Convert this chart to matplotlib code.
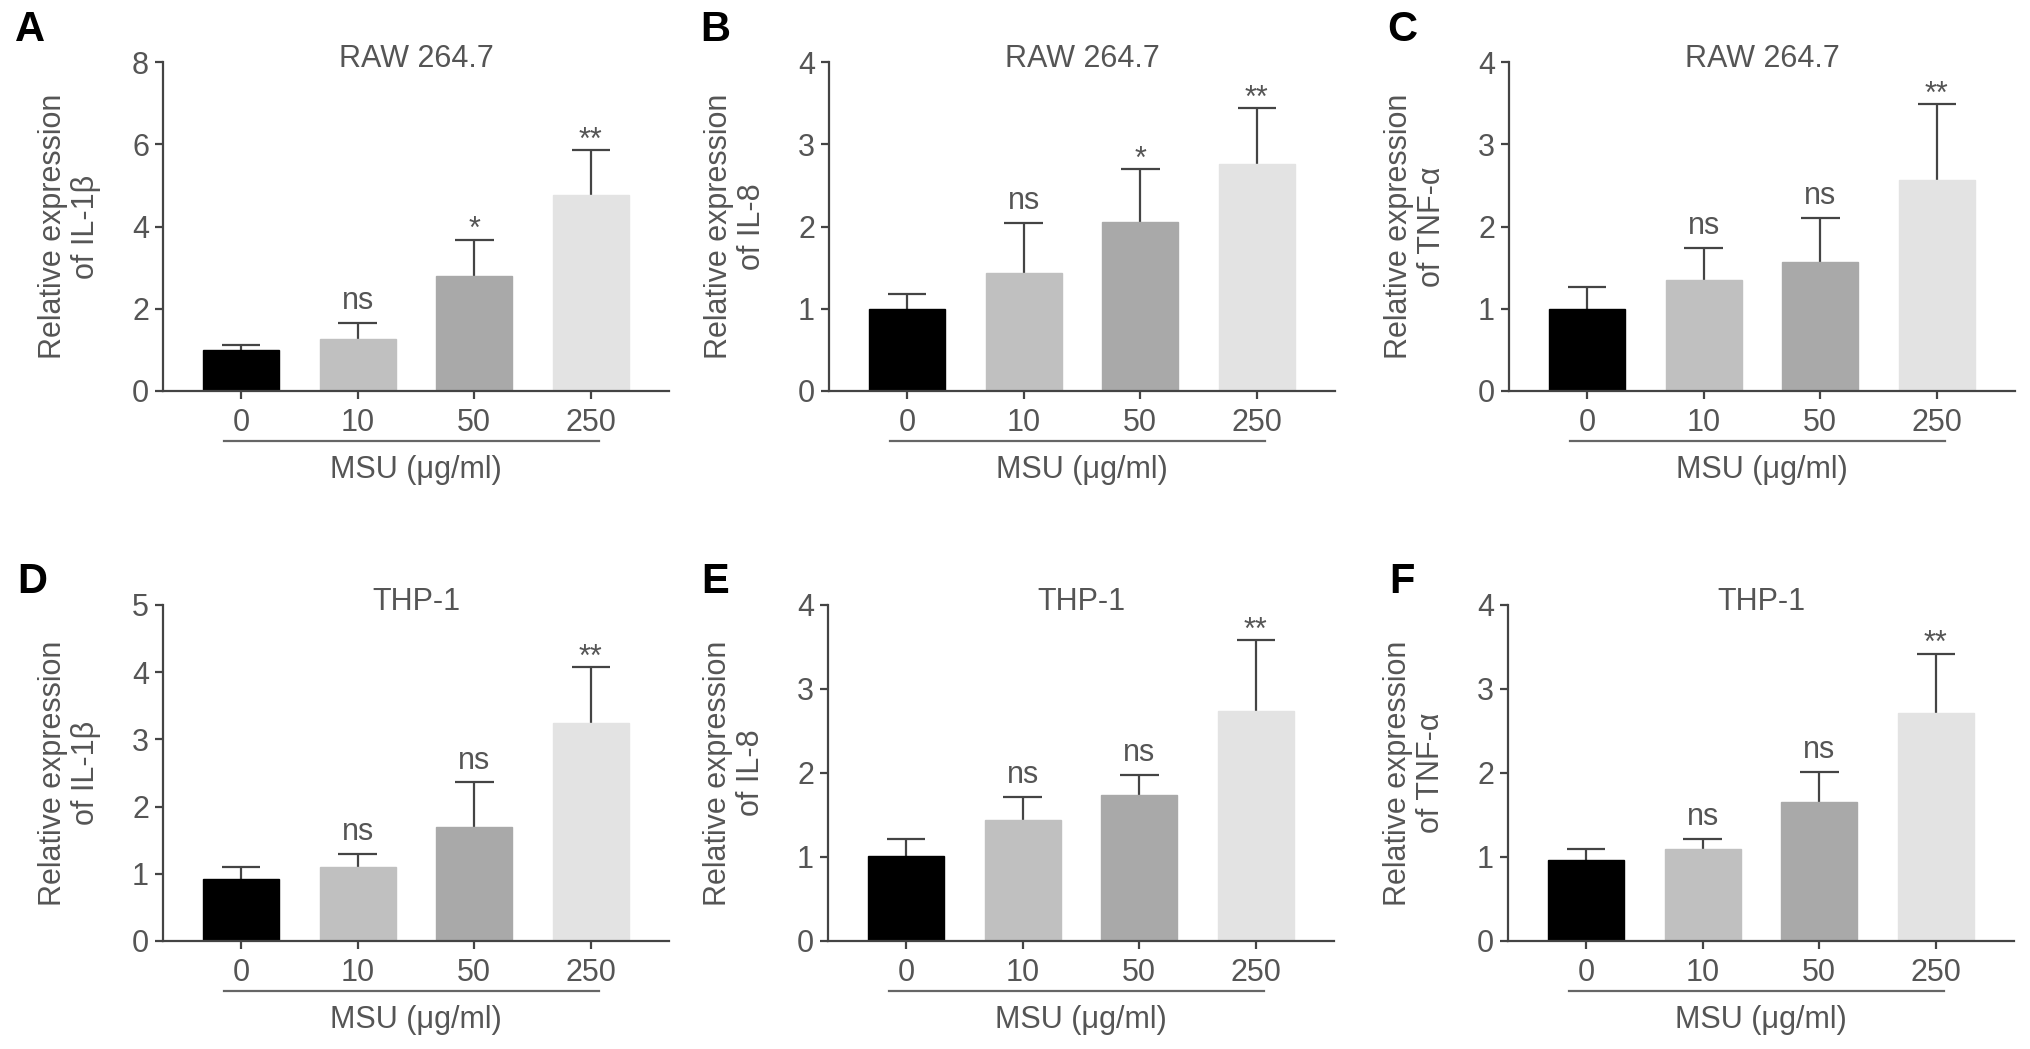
import matplotlib
matplotlib.use('Agg')
import matplotlib.pyplot as plt
import numpy as np
from matplotlib.transforms import blended_transform_factory, ScaledTranslation

plt.rcParams['font.family'] = ['Liberation Sans', 'DejaVu Sans']

# categories (MSU concentration, ug/ml)
doses = ['0', '10', '50', '250']

# RAW 264.7
raw_il1b_mean = [1.00, 1.26, 2.80, 4.77]
raw_il1b_err = [0.11, 0.40, 0.88, 1.08]
raw_il1b_sig = ['', 'ns', '*', '**']

raw_il8_mean = [1.00, 1.44, 2.06, 2.76]
raw_il8_err = [0.18, 0.60, 0.64, 0.68]
raw_il8_sig = ['', 'ns', '*', '**']

raw_tnf_mean = [1.00, 1.35, 1.57, 2.57]
raw_tnf_err = [0.26, 0.39, 0.53, 0.92]
raw_tnf_sig = ['', 'ns', 'ns', '**']

# THP-1
thp_il1b_mean = [0.93, 1.10, 1.69, 3.25]
thp_il1b_err = [0.17, 0.20, 0.67, 0.82]
thp_il1b_sig = ['', 'ns', 'ns', '**']

thp_il8_mean = [1.01, 1.44, 1.74, 2.74]
thp_il8_err = [0.20, 0.27, 0.24, 0.84]
thp_il8_sig = ['', 'ns', 'ns', '**']

thp_tnf_mean = [0.97, 1.09, 1.66, 2.71]
thp_tnf_err = [0.13, 0.13, 0.35, 0.71]
thp_tnf_sig = ['', 'ns', 'ns', '**']

bar_cols = ['#000000', '#c0c0c0', '#a9a9a9', '#e3e3e3']
txt_col = '#555555'
ax_col = '#444444'

panels = [
    ('A', 'RAW 264.7', 'IL-1β', raw_il1b_mean, raw_il1b_err, raw_il1b_sig, 8, 2),
    ('B', 'RAW 264.7', 'IL-8', raw_il8_mean, raw_il8_err, raw_il8_sig, 4, 1),
    ('C', 'RAW 264.7', 'TNF-α', raw_tnf_mean, raw_tnf_err, raw_tnf_sig, 4, 1),
    ('D', 'THP-1', 'IL-1β', thp_il1b_mean, thp_il1b_err, thp_il1b_sig, 5, 1),
    ('E', 'THP-1', 'IL-8', thp_il8_mean, thp_il8_err, thp_il8_sig, 4, 1),
    ('F', 'THP-1', 'TNF-α', thp_tnf_mean, thp_tnf_err, thp_tnf_sig, 4, 1),
]

W, H = 2031, 1049
fig = plt.figure(figsize=(W / 100, H / 100), dpi=100)

# axes boxes in pixels: left, top, bottom
lefts = [163, 829, 1509, 163, 828, 1508]
tops = [62, 62, 62, 605, 605, 605]
bottoms = [391, 391, 391, 941, 941, 941]
letter_pos = [(15, 10), (700, 10), (1387, 10), (17, 562), (701, 562), (1389, 562)]
ax_w = 506

x = np.arange(4)
for i, (let, title, gene, mean, err, sig, ymax, ystep) in enumerate(panels):
    l, t, b = lefts[i], tops[i], bottoms[i]
    ax = fig.add_axes([l / W, (H - b) / H, ax_w / W, (b - t) / H])

    mean = np.array(mean)
    top = mean + np.array(err)
    ax.bar(x, mean, width=0.65, color=bar_cols, edgecolor=bar_cols, linewidth=1, zorder=2)
    # upper error bars only
    ax.vlines(x, mean, top, color=ax_col, lw=1.6, zorder=1)
    ax.hlines(top, x - 0.165, x + 0.165, color=ax_col, lw=1.6, zorder=1)

    for j in range(4):
        if sig[j] == '':
            continue
        off = 10 if sig[j] == 'ns' else 1
        ax.annotate(sig[j], (x[j], top[j]), xytext=(0, off),
                    textcoords='offset points', ha='center', va='baseline',
                    fontsize=22, color=txt_col)

    ax.set_xlim(-0.67, 3.67)
    ax.set_ylim(0, ymax)
    ax.set_yticks(np.arange(0, ymax + 0.1, ystep))
    ax.set_xticks(x)
    ax.set_xticklabels(doses)
    for s in ['top', 'right']:
        ax.spines[s].set_visible(False)
    for s in ['left', 'bottom']:
        ax.spines[s].set_color(ax_col)
        ax.spines[s].set_linewidth(1.6)
    ax.tick_params(axis='both', colors=ax_col, width=1.6, length=6,
                   labelsize=22, labelcolor=txt_col)
    ax.tick_params(axis='y', pad=4)
    ax.tick_params(axis='x', pad=6)

    ax.set_ylabel('Relative expression\nof ' + gene, fontsize=22, color=txt_col,
                  linespacing=1.15)
    ax.yaxis.set_label_coords(-62 / ax_w, 0.5)

    ax.text(0.5, 0.985, title, transform=ax.transAxes, ha='center',
            va='baseline', fontsize=22, color=txt_col)

    # bracket line under the dose labels
    trans = blended_transform_factory(ax.transData, ax.transAxes) + \
        ScaledTranslation(0, -0.50, fig.dpi_scale_trans)
    ax.plot([-0.15, 3.07], [0, 0], color='#666666', lw=1.6, transform=trans,
            clip_on=False)
    trans2 = blended_transform_factory(ax.transData, ax.transAxes) + \
        ScaledTranslation(0, -0.79, fig.dpi_scale_trans)
    ax.text(1.5, 0, 'MSU (μg/ml)', transform=trans2, ha='center', va='center',
            fontsize=22, color=txt_col)

    lx, ly = letter_pos[i]
    fig.text(lx / W, 1 - ly / H, let, ha='left', va='top', fontsize=30,
             fontweight='bold', color='black')

fig.savefig('out.png', dpi=100)
